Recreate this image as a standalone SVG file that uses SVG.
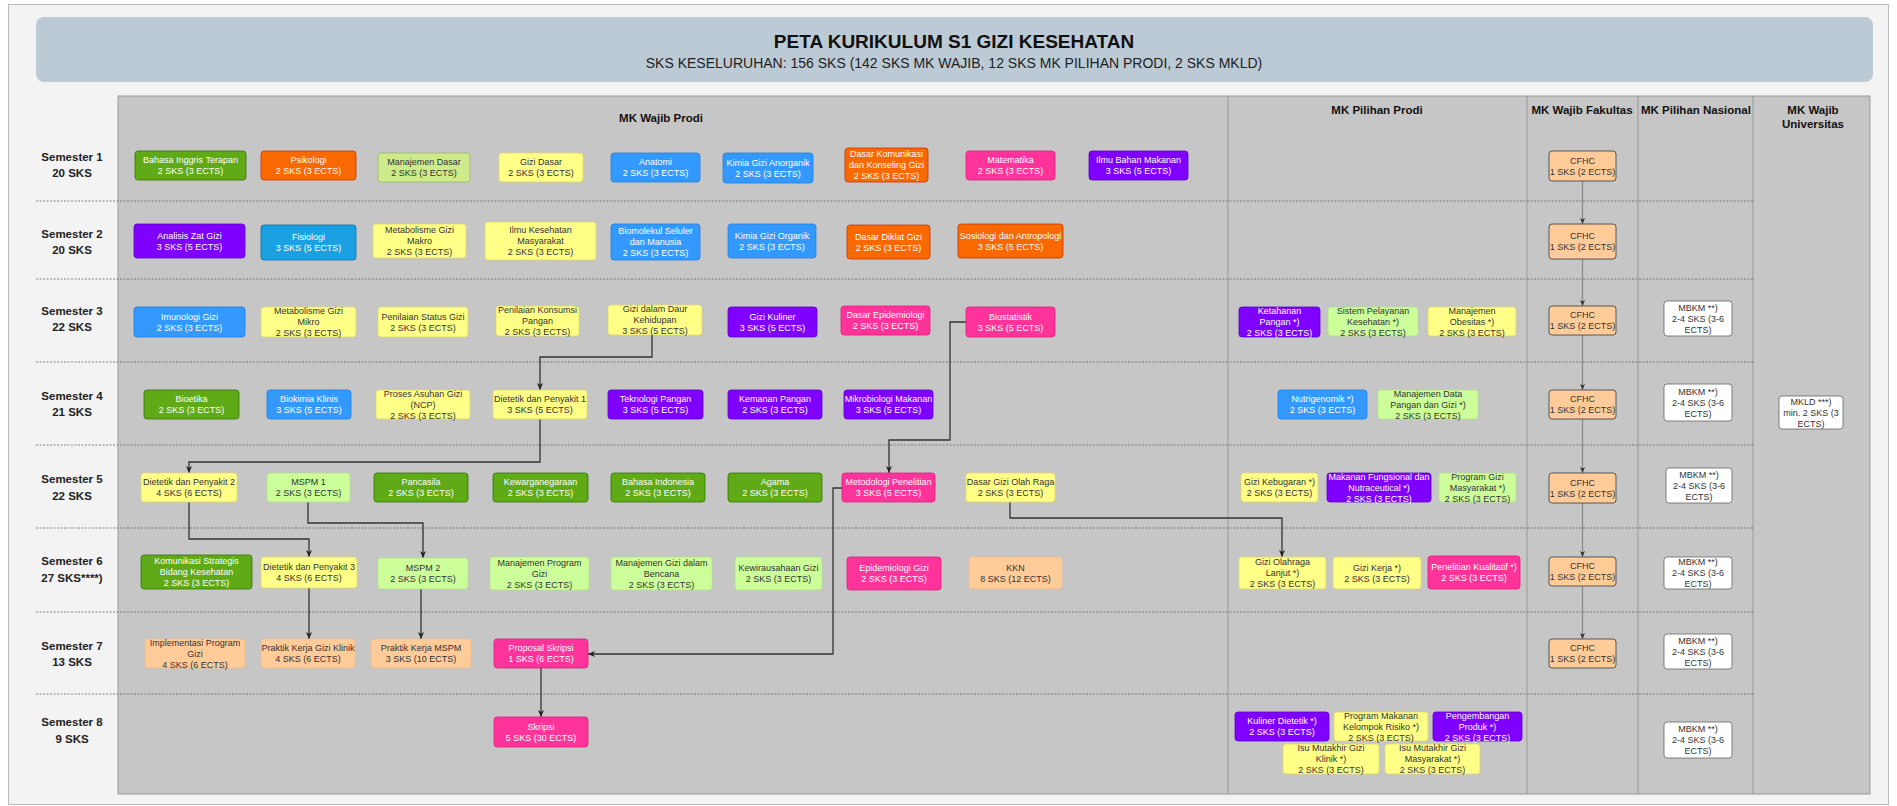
<svg xmlns="http://www.w3.org/2000/svg" width="1897" height="806" viewBox="0 0 1897 806">
<style>
text{font-family:"Liberation Sans",Arial,sans-serif}
.t{font-size:9px;text-anchor:middle}
.tw{fill:#ffffff}
.td{fill:#333333}
.hd{font-size:11.5px;font-weight:bold;text-anchor:middle;fill:#111}
.sem{font-size:11.5px;font-weight:bold;text-anchor:middle;fill:#222}
rect.n{stroke-width:0.8}
.g{fill:#60a917;stroke:#2d7600}
.o{fill:#fa6800;stroke:#c73500}
.b{fill:#3399ff;stroke:#1f7fe0}
.b2{fill:#1ba1e2;stroke:#006eaf}
.p{fill:#7f00ff;stroke:#5a00cc}
.k{fill:#ff3399;stroke:#e0207f}
.y{fill:#ffff88;stroke:#e0d870}
.l1{fill:#cdeb8b;stroke:#9fb56a}
.l2{fill:#ccff99;stroke:#b5e08a}
.c{fill:#ffcc99;stroke:#36393d}
.pe{fill:#ffcc99;stroke:#f0bb88}
.m{fill:#ffffff;stroke:#666666}
.cn{fill:none;stroke:#333;stroke-width:1.3}
.cg{fill:none;stroke:#888;stroke-width:1.2}
.dl{stroke:#666;stroke-width:0.8;stroke-dasharray:2 1.5}
.vl{stroke:#999;stroke-width:1}
</style>
<defs>
<marker id="a" markerWidth="8" markerHeight="8" refX="7" refY="4" orient="auto" markerUnits="userSpaceOnUse"><path d="M0,1 L7,4 L0,7 L2,4 Z" fill="#222"/></marker>
<marker id="a2" markerWidth="7" markerHeight="7" refX="6" refY="3.5" orient="auto" markerUnits="userSpaceOnUse"><path d="M0,1 L6,3.5 L0,6 L1.5,3.5 Z" fill="#333"/></marker>
</defs>

<g id="background">
<rect x="8.5" y="4.5" width="1880" height="800" fill="#f3f3f3" stroke="#bbbbbb"/>
<rect x="36" y="17" width="1837" height="65" rx="8" fill="#bccad6"/>
<text x="954" y="48" font-size="19" font-weight="bold" text-anchor="middle" fill="#111">PETA KURIKULUM S1 GIZI KESEHATAN</text>
<text x="954" y="68" font-size="14" text-anchor="middle" fill="#222">SKS KESELURUHAN: 156 SKS (142 SKS MK WAJIB, 12 SKS MK PILIHAN PRODI, 2 SKS MKLD)</text>
<rect x="118" y="96" width="1752" height="698" fill="#c6c6c6" stroke="#9a9a9a"/>
<line class="vl" x1="1228" y1="96" x2="1228" y2="794"/>
<line class="vl" x1="1527" y1="96" x2="1527" y2="794"/>
<line class="vl" x1="1638" y1="96" x2="1638" y2="794"/>
<line class="vl" x1="1753" y1="96" x2="1753" y2="794"/>
<line class="dl" x1="36" y1="201" x2="1753" y2="201"/>
<line class="dl" x1="36" y1="279" x2="1753" y2="279"/>
<line class="dl" x1="36" y1="362" x2="1753" y2="362"/>
<line class="dl" x1="36" y1="445" x2="1753" y2="445"/>
<line class="dl" x1="36" y1="528" x2="1753" y2="528"/>
<line class="dl" x1="36" y1="612" x2="1753" y2="612"/>
<line class="dl" x1="36" y1="694" x2="1753" y2="694"/>
<text class="hd" x="661" y="122">MK Wajib Prodi</text>
<text class="hd" x="1377" y="114">MK Pilihan Prodi</text>
<text class="hd" x="1582" y="114">MK Wajib Fakultas</text>
<text class="hd" x="1696" y="114">MK Pilihan Nasional</text>
<text class="hd" x="1813" y="114">MK Wajib</text>
<text class="hd" x="1813" y="128">Universitas</text>
</g>

<g id="semester-labels">
<text class="sem" x="72" y="161">Semester 1</text><text class="sem" x="72" y="177">20 SKS</text>
<text class="sem" x="72" y="238">Semester 2</text><text class="sem" x="72" y="254">20 SKS</text>
<text class="sem" x="72" y="315">Semester 3</text><text class="sem" x="72" y="331">22 SKS</text>
<text class="sem" x="72" y="400">Semester 4</text><text class="sem" x="72" y="416">21 SKS</text>
<text class="sem" x="72" y="483">Semester 5</text><text class="sem" x="72" y="500">22 SKS</text>
<text class="sem" x="72" y="565">Semester 6</text><text class="sem" x="72" y="582">27 SKS****)</text>
<text class="sem" x="72" y="650">Semester 7</text><text class="sem" x="72" y="666">13 SKS</text>
<text class="sem" x="72" y="726">Semester 8</text><text class="sem" x="72" y="743">9 SKS</text>
</g>

<g id="connectors">
<path class="cn" d="M652,335 V357 H540 V390" marker-end="url(#a)"/>
<path class="cn" d="M966,322 H950 V440 H889 V473" marker-end="url(#a)"/>
<path class="cn" d="M540,419 V462 H189 V473" marker-end="url(#a)"/>
<path class="cn" d="M189,502 V539 H309 V557" marker-end="url(#a)"/>
<path class="cn" d="M308,502 V523 H423 V558" marker-end="url(#a)"/>
<path class="cn" d="M842,488 H833 V654 H588" marker-end="url(#a)"/>
<path class="cn" d="M1010,502 V518 H1282 V557" marker-end="url(#a)"/>
<path class="cn" d="M309,588 V639" marker-end="url(#a)"/>
<path class="cn" d="M421,589 V639" marker-end="url(#a)"/>
<path class="cn" d="M541,668 V717" marker-end="url(#a)"/>
<path class="cg" d="M1582.5,181 V224" marker-end="url(#a2)"/>
<path class="cg" d="M1582.5,259 V306" marker-end="url(#a2)"/>
<path class="cg" d="M1582.5,335 V390" marker-end="url(#a2)"/>
<path class="cg" d="M1582.5,419 V473" marker-end="url(#a2)"/>
<path class="cg" d="M1582.5,503 V557" marker-end="url(#a2)"/>
<path class="cg" d="M1582.5,586 V639" marker-end="url(#a2)"/>
</g>

<!-- Semester 1 -->
<g id="n-bahasa-inggris"><rect class="n g" x="135" y="151" width="111" height="29" rx="3"/><text class="t tw"><tspan x="190.5" y="163.2">Bahasa Inggris Terapan</tspan><tspan x="190.5" y="174.2">2 SKS (3 ECTS)</tspan></text></g>
<g id="n-psikologi"><rect class="n o" x="261" y="151" width="95" height="29" rx="3"/><text class="t tw"><tspan x="308.5" y="163.2">Psikologi</tspan><tspan x="308.5" y="174.2">2 SKS (3 ECTS)</tspan></text></g>
<g id="n-manajemen-dasar"><rect class="n l1" x="378" y="153" width="92" height="29" rx="3"/><text class="t td"><tspan x="424" y="165.2">Manajemen Dasar</tspan><tspan x="424" y="176.2">2 SKS (3 ECTS)</tspan></text></g>
<g id="n-gizi-dasar"><rect class="n y" x="499" y="153" width="84" height="29" rx="3"/><text class="t td"><tspan x="541" y="165.2">Gizi Dasar</tspan><tspan x="541" y="176.2">2 SKS (3 ECTS)</tspan></text></g>
<g id="n-anatomi"><rect class="n b" x="611" y="153" width="89" height="29" rx="3"/><text class="t tw"><tspan x="655.5" y="165.2">Anatomi</tspan><tspan x="655.5" y="176.2">2 SKS (3 ECTS)</tspan></text></g>
<g id="n-kimia-anorganik"><rect class="n b" x="723" y="153" width="90" height="30" rx="3"/><text class="t tw"><tspan x="768" y="165.7">Kimia Gizi Anorganik</tspan><tspan x="768" y="176.7">2 SKS (3 ECTS)</tspan></text></g>
<g id="n-dasar-komunikasi"><rect class="n o" x="845" y="148" width="83" height="34" rx="3"/><text class="t tw"><tspan x="886.5" y="157.2">Dasar Komunikasi</tspan><tspan x="886.5" y="168.2">dan Konseling Gizi</tspan><tspan x="886.5" y="179.2">2 SKS (3 ECTS)</tspan></text></g>
<g id="n-matematika"><rect class="n k" x="966" y="151" width="89" height="29" rx="3"/><text class="t tw"><tspan x="1010.5" y="163.2">Matematika</tspan><tspan x="1010.5" y="174.2">2 SKS (3 ECTS)</tspan></text></g>
<g id="n-ilmu-bahan"><rect class="n p" x="1089" y="151" width="99" height="29" rx="3"/><text class="t tw"><tspan x="1138.5" y="163.2">Ilmu Bahan Makanan</tspan><tspan x="1138.5" y="174.2">3 SKS (5 ECTS)</tspan></text></g>
<g id="n-cfhc1"><rect class="n c" x="1549" y="151" width="67" height="30" rx="3"/><text class="t td"><tspan x="1582.5" y="163.7">CFHC</tspan><tspan x="1582.5" y="174.7">1 SKS (2 ECTS)</tspan></text></g>

<!-- Semester 2 -->
<g id="n-analisis-zat"><rect class="n p" x="134" y="224" width="111" height="34" rx="3"/><text class="t tw"><tspan x="189.5" y="238.7">Analisis Zat Gizi</tspan><tspan x="189.5" y="249.7">3 SKS (5 ECTS)</tspan></text></g>
<g id="n-fisiologi"><rect class="n b2" x="261" y="225" width="95" height="35" rx="3"/><text class="t tw"><tspan x="308.5" y="240.2">Fisiologi</tspan><tspan x="308.5" y="251.2">3 SKS (5 ECTS)</tspan></text></g>
<g id="n-metab-makro"><rect class="n y" x="373" y="224" width="93" height="34" rx="3"/><text class="t td"><tspan x="419.5" y="233.2">Metabolisme Gizi</tspan><tspan x="419.5" y="244.2">Makro</tspan><tspan x="419.5" y="255.2">2 SKS (3 ECTS)</tspan></text></g>
<g id="n-ikm"><rect class="n y" x="485" y="222" width="111" height="38" rx="3"/><text class="t td"><tspan x="540.5" y="233.2">Ilmu Kesehatan</tspan><tspan x="540.5" y="244.2">Masyarakat</tspan><tspan x="540.5" y="255.2">2 SKS (3 ECTS)</tspan></text></g>
<g id="n-biomolekul"><rect class="n b" x="611" y="224" width="89" height="36" rx="3"/><text class="t tw"><tspan x="655.5" y="234.2">Biomolekul Seluler</tspan><tspan x="655.5" y="245.2">dan Manusia</tspan><tspan x="655.5" y="256.2">2 SKS (3 ECTS)</tspan></text></g>
<g id="n-kimia-organik"><rect class="n b" x="728" y="224" width="88" height="34" rx="3"/><text class="t tw"><tspan x="772" y="238.7">Kimia Gizi Organik</tspan><tspan x="772" y="249.7">2 SKS (3 ECTS)</tspan></text></g>
<g id="n-diklat"><rect class="n o" x="847" y="225" width="83" height="34" rx="3"/><text class="t tw"><tspan x="888.5" y="239.7">Dasar Diklat Gizi</tspan><tspan x="888.5" y="250.7">2 SKS (3 ECTS)</tspan></text></g>
<g id="n-sosiologi"><rect class="n o" x="958" y="224" width="105" height="34" rx="3"/><text class="t tw"><tspan x="1010.5" y="238.7">Sosiologi dan Antropologi</tspan><tspan x="1010.5" y="249.7">3 SKS (5 ECTS)</tspan></text></g>
<g id="n-cfhc2"><rect class="n c" x="1549" y="224" width="67" height="35" rx="3"/><text class="t td"><tspan x="1582.5" y="239.2">CFHC</tspan><tspan x="1582.5" y="250.2">1 SKS (2 ECTS)</tspan></text></g>

<!-- Semester 3 -->
<g id="n-imunologi"><rect class="n b" x="134" y="307" width="111" height="30" rx="3"/><text class="t tw"><tspan x="189.5" y="319.7">Imunologi Gizi</tspan><tspan x="189.5" y="330.7">2 SKS (3 ECTS)</tspan></text></g>
<g id="n-metab-mikro"><rect class="n y" x="261" y="307" width="95" height="30" rx="3"/><text class="t td"><tspan x="308.5" y="314.2">Metabolisme Gizi</tspan><tspan x="308.5" y="325.2">Mikro</tspan><tspan x="308.5" y="336.2">2 SKS (3 ECTS)</tspan></text></g>
<g id="n-status-gizi"><rect class="n y" x="378" y="307" width="90" height="30" rx="3"/><text class="t td"><tspan x="423" y="319.7">Penilaian Status Gizi</tspan><tspan x="423" y="330.7">2 SKS (3 ECTS)</tspan></text></g>
<g id="n-konsumsi"><rect class="n y" x="496" y="306" width="83" height="30" rx="3"/><text class="t td"><tspan x="537.5" y="313.2">Penilaian Konsumsi</tspan><tspan x="537.5" y="324.2">Pangan</tspan><tspan x="537.5" y="335.2">2 SKS (3 ECTS)</tspan></text></g>
<g id="n-daur"><rect class="n y" x="608" y="305" width="94" height="30" rx="3"/><text class="t td"><tspan x="655" y="312.2">Gizi dalam Daur</tspan><tspan x="655" y="323.2">Kehidupan</tspan><tspan x="655" y="334.2">3 SKS (5 ECTS)</tspan></text></g>
<g id="n-kuliner"><rect class="n p" x="728" y="307" width="89" height="30" rx="3"/><text class="t tw"><tspan x="772.5" y="319.7">Gizi Kuliner</tspan><tspan x="772.5" y="330.7">3 SKS (5 ECTS)</tspan></text></g>
<g id="n-dasar-epid"><rect class="n k" x="841" y="306" width="89" height="29" rx="3"/><text class="t tw"><tspan x="885.5" y="318.2">Dasar Epidemiologi</tspan><tspan x="885.5" y="329.2">2 SKS (3 ECTS)</tspan></text></g>
<g id="n-biostatistik"><rect class="n k" x="966" y="307" width="89" height="30" rx="3"/><text class="t tw"><tspan x="1010.5" y="319.7">Biostatistik</tspan><tspan x="1010.5" y="330.7">3 SKS (5 ECTS)</tspan></text></g>
<g id="n-ketahanan"><rect class="n p" x="1239" y="307" width="81" height="30" rx="3"/><text class="t tw"><tspan x="1279.5" y="314.2">Ketahanan</tspan><tspan x="1279.5" y="325.2">Pangan *)</tspan><tspan x="1279.5" y="336.2">2 SKS (3 ECTS)</tspan></text></g>
<g id="n-sistem-pelayanan"><rect class="n l2" x="1328" y="307" width="90" height="29" rx="3"/><text class="t td"><tspan x="1373" y="313.7">Sistem Pelayanan</tspan><tspan x="1373" y="324.7">Kesehatan *)</tspan><tspan x="1373" y="335.7">2 SKS (3 ECTS)</tspan></text></g>
<g id="n-obesitas"><rect class="n y" x="1428" y="307" width="88" height="29" rx="3"/><text class="t td"><tspan x="1472" y="313.7">Manajemen</tspan><tspan x="1472" y="324.7">Obesitas *)</tspan><tspan x="1472" y="335.7">2 SKS (3 ECTS)</tspan></text></g>
<g id="n-cfhc3"><rect class="n c" x="1549" y="306" width="67" height="29" rx="3"/><text class="t td"><tspan x="1582.5" y="318.2">CFHC</tspan><tspan x="1582.5" y="329.2">1 SKS (2 ECTS)</tspan></text></g>
<g id="n-mbkm3"><rect class="n m" x="1664" y="301" width="68" height="35" rx="3"/><text class="t td"><tspan x="1698" y="310.7">MBKM **)</tspan><tspan x="1698" y="321.7">2-4 SKS (3-6</tspan><tspan x="1698" y="332.7">ECTS)</tspan></text></g>

<!-- Semester 4 -->
<g id="n-bioetika"><rect class="n g" x="144" y="390" width="95" height="29" rx="3"/><text class="t tw"><tspan x="191.5" y="402.2">Bioetika</tspan><tspan x="191.5" y="413.2">2 SKS (3 ECTS)</tspan></text></g>
<g id="n-biokimia"><rect class="n b" x="267" y="390" width="84" height="29" rx="3"/><text class="t tw"><tspan x="309" y="402.2">Biokimia Klinis</tspan><tspan x="309" y="413.2">3 SKS (5 ECTS)</tspan></text></g>
<g id="n-ncp"><rect class="n y" x="376" y="390" width="94" height="29" rx="3"/><text class="t td"><tspan x="423" y="396.7">Proses Asuhan Gizi</tspan><tspan x="423" y="407.7">(NCP)</tspan><tspan x="423" y="418.7">2 SKS (3 ECTS)</tspan></text></g>
<g id="n-dp1"><rect class="n y" x="493" y="390" width="94" height="29" rx="3"/><text class="t td"><tspan x="540" y="402.2">Dietetik dan Penyakit 1</tspan><tspan x="540" y="413.2">3 SKS (5 ECTS)</tspan></text></g>
<g id="n-teknologi"><rect class="n p" x="608" y="390" width="95" height="29" rx="3"/><text class="t tw"><tspan x="655.5" y="402.2">Teknologi Pangan</tspan><tspan x="655.5" y="413.2">3 SKS (5 ECTS)</tspan></text></g>
<g id="n-keamanan"><rect class="n p" x="728" y="390" width="94" height="29" rx="3"/><text class="t tw"><tspan x="775" y="402.2">Kemanan Pangan</tspan><tspan x="775" y="413.2">2 SKS (3 ECTS)</tspan></text></g>
<g id="n-mikrobiologi"><rect class="n p" x="844" y="390" width="89" height="29" rx="3"/><text class="t tw"><tspan x="888.5" y="402.2">Mikrobiologi Makanan</tspan><tspan x="888.5" y="413.2">3 SKS (5 ECTS)</tspan></text></g>
<g id="n-nutrigenomik"><rect class="n b" x="1278" y="390" width="89" height="29" rx="3"/><text class="t tw"><tspan x="1322.5" y="402.2">Nutrigenomik *)</tspan><tspan x="1322.5" y="413.2">2 SKS (3 ECTS)</tspan></text></g>
<g id="n-data-pangan"><rect class="n l2" x="1378" y="390" width="100" height="29" rx="3"/><text class="t td"><tspan x="1428" y="396.7">Manajemen Data</tspan><tspan x="1428" y="407.7">Pangan dan Gizi *)</tspan><tspan x="1428" y="418.7">2 SKS (3 ECTS)</tspan></text></g>
<g id="n-cfhc4"><rect class="n c" x="1549" y="390" width="67" height="29" rx="3"/><text class="t td"><tspan x="1582.5" y="402.2">CFHC</tspan><tspan x="1582.5" y="413.2">1 SKS (2 ECTS)</tspan></text></g>
<g id="n-mbkm4"><rect class="n m" x="1664" y="384" width="68" height="37" rx="3"/><text class="t td"><tspan x="1698" y="394.7">MBKM **)</tspan><tspan x="1698" y="405.7">2-4 SKS (3-6</tspan><tspan x="1698" y="416.7">ECTS)</tspan></text></g>
<g id="n-mkld"><rect class="n m" x="1779" y="396" width="64" height="33" rx="3"/><text class="t td"><tspan x="1811" y="404.7">MKLD ***)</tspan><tspan x="1811" y="415.7">min. 2 SKS (3</tspan><tspan x="1811" y="426.7">ECTS)</tspan></text></g>

<!-- Semester 5 -->
<g id="n-dp2"><rect class="n y" x="141" y="473" width="96" height="29" rx="3"/><text class="t td"><tspan x="189" y="485.2">Dietetik dan Penyakit 2</tspan><tspan x="189" y="496.2">4 SKS (6 ECTS)</tspan></text></g>
<g id="n-mspm1"><rect class="n l2" x="267" y="473" width="83" height="29" rx="3"/><text class="t td"><tspan x="308.5" y="485.2">MSPM 1</tspan><tspan x="308.5" y="496.2">2 SKS (3 ECTS)</tspan></text></g>
<g id="n-pancasila"><rect class="n g" x="374" y="473" width="94" height="29" rx="3"/><text class="t tw"><tspan x="421" y="485.2">Pancasila</tspan><tspan x="421" y="496.2">2 SKS (3 ECTS)</tspan></text></g>
<g id="n-kewarganegaraan"><rect class="n g" x="493" y="473" width="95" height="29" rx="3"/><text class="t tw"><tspan x="540.5" y="485.2">Kewarganegaraan</tspan><tspan x="540.5" y="496.2">2 SKS (3 ECTS)</tspan></text></g>
<g id="n-bahasa-indonesia"><rect class="n g" x="611" y="473" width="94" height="29" rx="3"/><text class="t tw"><tspan x="658" y="485.2">Bahasa Indonesia</tspan><tspan x="658" y="496.2">2 SKS (3 ECTS)</tspan></text></g>
<g id="n-agama"><rect class="n g" x="728" y="473" width="94" height="29" rx="3"/><text class="t tw"><tspan x="775" y="485.2">Agama</tspan><tspan x="775" y="496.2">2 SKS (3 ECTS)</tspan></text></g>
<g id="n-metodologi"><rect class="n k" x="842" y="473" width="93" height="29" rx="3"/><text class="t tw"><tspan x="888.5" y="485.2">Metodologi Penelitian</tspan><tspan x="888.5" y="496.2">3 SKS (5 ECTS)</tspan></text></g>
<g id="n-olahraga"><rect class="n y" x="966" y="473" width="89" height="29" rx="3"/><text class="t td"><tspan x="1010.5" y="485.2">Dasar Gizi Olah Raga</tspan><tspan x="1010.5" y="496.2">2 SKS (3 ECTS)</tspan></text></g>
<g id="n-kebugaran"><rect class="n y" x="1241" y="473" width="77" height="29" rx="3"/><text class="t td"><tspan x="1279.5" y="485.2">Gizi Kebugaran *)</tspan><tspan x="1279.5" y="496.2">2 SKS (3 ECTS)</tspan></text></g>
<g id="n-fungsional"><rect class="n p" x="1327" y="473" width="104" height="29" rx="3"/><text class="t tw"><tspan x="1379" y="479.7">Makanan Fungsional dan</tspan><tspan x="1379" y="490.7">Nutraceutical *)</tspan><tspan x="1379" y="501.7">2 SKS (3 ECTS)</tspan></text></g>
<g id="n-gizi-masyarakat"><rect class="n l2" x="1439" y="473" width="77" height="29" rx="3"/><text class="t td"><tspan x="1477.5" y="479.7">Program Gizi</tspan><tspan x="1477.5" y="490.7">Masyarakat *)</tspan><tspan x="1477.5" y="501.7">2 SKS (3 ECTS)</tspan></text></g>
<g id="n-cfhc5"><rect class="n c" x="1549" y="473" width="67" height="30" rx="3"/><text class="t td"><tspan x="1582.5" y="485.7">CFHC</tspan><tspan x="1582.5" y="496.7">1 SKS (2 ECTS)</tspan></text></g>
<g id="n-mbkm5"><rect class="n m" x="1666" y="468" width="66" height="35" rx="3"/><text class="t td"><tspan x="1699" y="477.7">MBKM **)</tspan><tspan x="1699" y="488.7">2-4 SKS (3-6</tspan><tspan x="1699" y="499.7">ECTS)</tspan></text></g>

<!-- Semester 6 -->
<g id="n-komunikasi"><rect class="n g" x="141" y="555" width="111" height="34" rx="3"/><text class="t tw"><tspan x="196.5" y="564.2">Komunikasi Strategis</tspan><tspan x="196.5" y="575.2">Bidang Kesehatan</tspan><tspan x="196.5" y="586.2">2 SKS (3 ECTS)</tspan></text></g>
<g id="n-dp3"><rect class="n y" x="261" y="557" width="96" height="31" rx="3"/><text class="t td"><tspan x="309" y="570.2">Dietetik dan Penyakit 3</tspan><tspan x="309" y="581.2">4 SKS (6 ECTS)</tspan></text></g>
<g id="n-mspm2"><rect class="n l2" x="378" y="558" width="90" height="31" rx="3"/><text class="t td"><tspan x="423" y="571.2">MSPM 2</tspan><tspan x="423" y="582.2">2 SKS (3 ECTS)</tspan></text></g>
<g id="n-program-gizi"><rect class="n l2" x="490" y="557" width="99" height="33" rx="3"/><text class="t td"><tspan x="539.5" y="565.7">Manajemen Program</tspan><tspan x="539.5" y="576.7">Gizi</tspan><tspan x="539.5" y="587.7">2 SKS (3 ECTS)</tspan></text></g>
<g id="n-bencana"><rect class="n l2" x="611" y="557" width="101" height="33" rx="3"/><text class="t td"><tspan x="661.5" y="565.7">Manajemen Gizi dalam</tspan><tspan x="661.5" y="576.7">Bencana</tspan><tspan x="661.5" y="587.7">2 SKS (3 ECTS)</tspan></text></g>
<g id="n-kewirausahaan"><rect class="n l2" x="735" y="557" width="87" height="33" rx="3"/><text class="t td"><tspan x="778.5" y="571.2">Kewirausahaan Gizi</tspan><tspan x="778.5" y="582.2">2 SKS (3 ECTS)</tspan></text></g>
<g id="n-epid-gizi"><rect class="n k" x="847" y="557" width="94" height="33" rx="3"/><text class="t tw"><tspan x="894" y="571.2">Epidemiologi Gizi</tspan><tspan x="894" y="582.2">2 SKS (3 ECTS)</tspan></text></g>
<g id="n-kkn"><rect class="n pe" x="969" y="557" width="93" height="32" rx="3"/><text class="t td"><tspan x="1015.5" y="570.7">KKN</tspan><tspan x="1015.5" y="581.7">8 SKS (12 ECTS)</tspan></text></g>
<g id="n-olahraga-lanjut"><rect class="n y" x="1239" y="557" width="87" height="32" rx="3"/><text class="t td"><tspan x="1282.5" y="565.2">Gizi Olahraga</tspan><tspan x="1282.5" y="576.2">Lanjut *)</tspan><tspan x="1282.5" y="587.2">2 SKS (3 ECTS)</tspan></text></g>
<g id="n-gizi-kerja"><rect class="n y" x="1333" y="557" width="88" height="32" rx="3"/><text class="t td"><tspan x="1377" y="570.7">Gizi Kerja *)</tspan><tspan x="1377" y="581.7">2 SKS (3 ECTS)</tspan></text></g>
<g id="n-kualitatif"><rect class="n k" x="1428" y="556" width="92" height="33" rx="3"/><text class="t tw"><tspan x="1474" y="570.2">Penelitian Kualitatif *)</tspan><tspan x="1474" y="581.2">2 SKS (3 ECTS)</tspan></text></g>
<g id="n-cfhc6"><rect class="n c" x="1549" y="557" width="67" height="29" rx="3"/><text class="t td"><tspan x="1582.5" y="569.2">CFHC</tspan><tspan x="1582.5" y="580.2">1 SKS (2 ECTS)</tspan></text></g>
<g id="n-mbkm6"><rect class="n m" x="1664" y="557" width="68" height="32" rx="3"/><text class="t td"><tspan x="1698" y="565.2">MBKM **)</tspan><tspan x="1698" y="576.2">2-4 SKS (3-6</tspan><tspan x="1698" y="587.2">ECTS)</tspan></text></g>

<!-- Semester 7 -->
<g id="n-implementasi"><rect class="n pe" x="145" y="639" width="100" height="29" rx="3"/><text class="t td"><tspan x="195" y="645.7">Implementasi Program</tspan><tspan x="195" y="656.7">Gizi</tspan><tspan x="195" y="667.7">4 SKS (6 ECTS)</tspan></text></g>
<g id="n-pk-klinik"><rect class="n pe" x="261" y="639" width="94" height="29" rx="3"/><text class="t td"><tspan x="308" y="651.2">Praktik Kerja Gizi Klinik</tspan><tspan x="308" y="662.2">4 SKS (6 ECTS)</tspan></text></g>
<g id="n-pk-mspm"><rect class="n pe" x="371" y="639" width="100" height="29" rx="3"/><text class="t td"><tspan x="421" y="651.2">Praktik Kerja MSPM</tspan><tspan x="421" y="662.2">3 SKS (10 ECTS)</tspan></text></g>
<g id="n-proposal"><rect class="n k" x="494" y="639" width="94" height="29" rx="3"/><text class="t tw"><tspan x="541" y="651.2">Proposal Skripsi</tspan><tspan x="541" y="662.2">1 SKS (6 ECTS)</tspan></text></g>
<g id="n-cfhc7"><rect class="n c" x="1549" y="639" width="67" height="29" rx="3"/><text class="t td"><tspan x="1582.5" y="651.2">CFHC</tspan><tspan x="1582.5" y="662.2">1 SKS (2 ECTS)</tspan></text></g>
<g id="n-mbkm7"><rect class="n m" x="1664" y="634" width="68" height="35" rx="3"/><text class="t td"><tspan x="1698" y="643.7">MBKM **)</tspan><tspan x="1698" y="654.7">2-4 SKS (3-6</tspan><tspan x="1698" y="665.7">ECTS)</tspan></text></g>

<!-- Semester 8 -->
<g id="n-skripsi"><rect class="n k" x="494" y="717" width="94" height="30" rx="3"/><text class="t tw"><tspan x="541" y="729.7">Skripsi</tspan><tspan x="541" y="740.7">5 SKS (30 ECTS)</tspan></text></g>
<g id="n-kuliner-dietetik"><rect class="n p" x="1235" y="712" width="94" height="29" rx="3"/><text class="t tw"><tspan x="1282" y="724.2">Kuliner Dietetik *)</tspan><tspan x="1282" y="735.2">2 SKS (3 ECTS)</tspan></text></g>
<g id="n-kelompok-risiko"><rect class="n y" x="1334" y="712" width="94" height="29" rx="3"/><text class="t td"><tspan x="1381" y="718.7">Program Makanan</tspan><tspan x="1381" y="729.7">Kelompok Risiko *)</tspan><tspan x="1381" y="740.7">2 SKS (3 ECTS)</tspan></text></g>
<g id="n-pengembangan"><rect class="n p" x="1433" y="712" width="89" height="29" rx="3"/><text class="t tw"><tspan x="1477.5" y="718.7">Pengembangan</tspan><tspan x="1477.5" y="729.7">Produk *)</tspan><tspan x="1477.5" y="740.7">2 SKS (3 ECTS)</tspan></text></g>
<g id="n-isu-klinik"><rect class="n y" x="1283" y="744" width="96" height="30" rx="3"/><text class="t td"><tspan x="1331" y="751.2">Isu Mutakhir Gizi</tspan><tspan x="1331" y="762.2">Klinik *)</tspan><tspan x="1331" y="773.2">2 SKS (3 ECTS)</tspan></text></g>
<g id="n-isu-masyarakat"><rect class="n y" x="1385" y="744" width="95" height="30" rx="3"/><text class="t td"><tspan x="1432.5" y="751.2">Isu Mutakhir Gizi</tspan><tspan x="1432.5" y="762.2">Masyarakat *)</tspan><tspan x="1432.5" y="773.2">2 SKS (3 ECTS)</tspan></text></g>
<g id="n-mbkm8"><rect class="n m" x="1664" y="722" width="68" height="36" rx="3"/><text class="t td"><tspan x="1698" y="732.2">MBKM **)</tspan><tspan x="1698" y="743.2">2-4 SKS (3-6</tspan><tspan x="1698" y="754.2">ECTS)</tspan></text></g>
</svg>
